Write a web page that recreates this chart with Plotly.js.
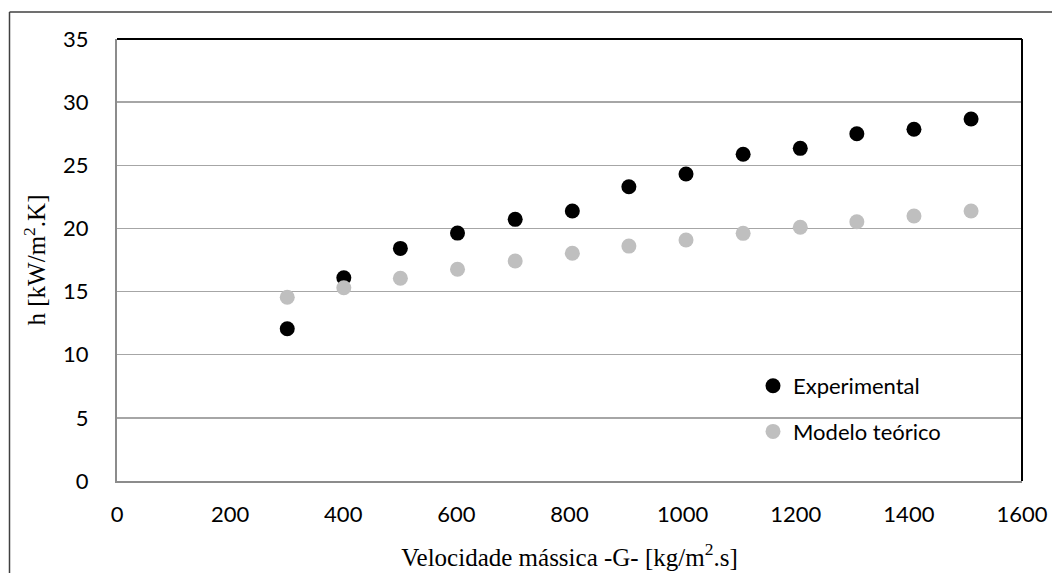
<!DOCTYPE html>
<html>
<head>
<meta charset="utf-8">
<script src="https://cdn.plot.ly/plotly-3.0.1.min.js"></script>
<style>
html,body{margin:0;padding:0;background:#fff;}
#chart{width:1052px;height:573px;}
</style>
</head>
<body>
<div id="chart"></div>
<script>
// Data
const massVelocity = [301, 401, 501, 602, 704, 805, 905, 1006, 1107, 1208, 1308, 1409, 1510];
const hExperimental = [12.06, 16.10, 18.42, 19.63, 20.72, 21.38, 23.30, 24.31, 25.87, 26.34, 27.50, 27.85, 28.66];
const hModel = [14.55, 15.30, 16.05, 16.77, 17.42, 18.03, 18.60, 19.08, 19.61, 20.09, 20.53, 20.98, 21.38];
const seriesNames = ["Experimental", "Modelo teórico"];
const xTicks = [0, 200, 400, 600, 800, 1000, 1200, 1400, 1600];
const yTicks = [0, 5, 10, 15, 20, 25, 30, 35];

const tickFont = {family: "Lato, 'Open Sans', sans-serif", size: 22, color: "#000"};
const titleFont = {family: "'Liberation Serif', 'DejaVu Serif', serif", size: 25, color: "#000"};

const traces = [
  {
    x: massVelocity, y: hExperimental, name: seriesNames[0], type: "scatter", mode: "markers",
    marker: {color: "#000000", size: 15}, legendgroup: "a", cliponaxis: false
  },
  {
    x: massVelocity, y: hModel, name: seriesNames[1], type: "scatter", mode: "markers",
    marker: {color: "#BFBFBF", size: 15}, legendgroup: "b", cliponaxis: false
  }
];

// plot area px: left 117, right 1022, top 39, bottom 481
const L = 117, R = 1022, T = 39, B = 481, W = 1052, H = 573;
const px2x = p => (p - L) / (R - L);
const py2y = p => (B - p) / (B - T);

const layout = {
  width: W, height: H,
  margin: {l: L, r: W - R, t: T, b: H - B, pad: 0},
  paper_bgcolor: "#fff", plot_bgcolor: "#fff",
  showlegend: true,
  legend: {
    x: px2x(753), y: py2y(365), xanchor: "left", yanchor: "top",
    font: {family: "Lato, 'Open Sans', sans-serif", size: 22, color: "#000"},
    bgcolor: "rgba(0,0,0,0)", traceorder: "grouped", tracegroupgap: 14,
    itemclick: false
  },
  xaxis: {
    range: [0, 1600], tickvals: xTicks, ticktext: xTicks.map(String),
    showgrid: false, zeroline: false, showline: true, linecolor: "#8C8C8C", linewidth: 2,
    ticks: "", tickfont: tickFont, ticklabelstandoff: 13,
    title: {text: "Velocidade mássica -G- [kg/m<sup>2</sup>.s]", font: titleFont, standoff: 22}
  },
  yaxis: {
    range: [0, 35], tickvals: yTicks, ticktext: yTicks.map(String),
    showgrid: true, gridcolor: "#A6A6A6", gridwidth: 1.5,
    zeroline: false, showline: true, linecolor: "#8C8C8C", linewidth: 2,
    ticks: "", tickfont: tickFont, ticklabelstandoff: 22,
    title: {text: "h [kW/m<sup>2</sup>.K]", font: titleFont, standoff: 10}
  },
  shapes: [
    {type: "line", xref: "paper", yref: "paper", x0: 0, x1: 1, y0: 1, y1: 1, line: {color: "#000", width: 2}},
    {type: "line", xref: "paper", yref: "paper", x0: 1, x1: 1, y0: 0, y1: 1, line: {color: "#000", width: 2}},
    {type: "line", xref: "paper", yref: "paper", x0: px2x(9.5), x1: px2x(W + 5), y0: py2y(12), y1: py2y(12), line: {color: "#404040", width: 1.5}},
    {type: "line", xref: "paper", yref: "paper", x0: px2x(9.5), x1: px2x(9.5), y0: py2y(12), y1: py2y(H + 5), line: {color: "#404040", width: 1.5}}
  ]
};

Plotly.newPlot("chart", traces, layout, {displayModeBar: false, staticPlot: true});
</script>
</body>
</html>
